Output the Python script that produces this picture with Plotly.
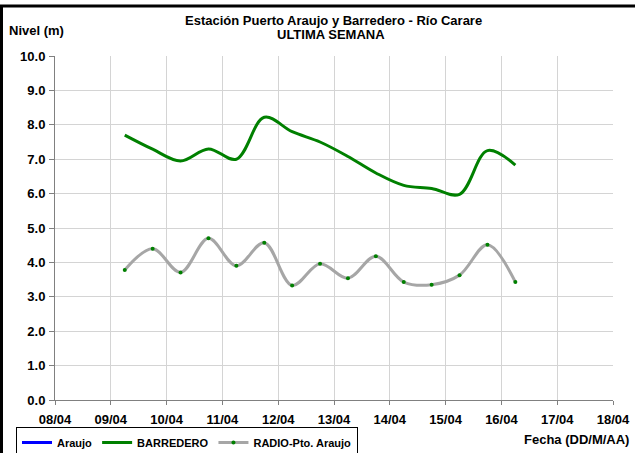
import plotly.graph_objects as go

# ---- data ----
fechas = [
    "2024-04-09 06:00", "2024-04-09 18:00", "2024-04-10 06:00", "2024-04-10 18:00",
    "2024-04-11 06:00", "2024-04-11 18:00", "2024-04-12 06:00", "2024-04-12 18:00",
    "2024-04-13 06:00", "2024-04-13 18:00", "2024-04-14 06:00", "2024-04-14 18:00",
    "2024-04-15 06:00", "2024-04-15 18:00", "2024-04-16 06:00",
]
araujo_fechas = ["2024-04-09 06:00"]
araujo = [None]  # no data for this station
barredero = [7.70, 7.29, 6.95, 7.30, 7.00, 8.22, 7.80, 7.50, 7.08, 6.60,
             6.24, 6.15, 5.98, 7.25, 6.83]
radio_pto_araujo = [3.78, 4.40, 3.71, 4.70, 3.90, 4.57, 3.33, 3.96, 3.54, 4.18,
                    3.43, 3.35, 3.63, 4.51, 3.43]
x_range = ["2024-04-08", "2024-04-18"]
y_ticks = [0, 1, 2, 3, 4, 5, 6, 7, 8, 9, 10]
titulo_1 = "Estación Puerto Araujo y Barredero - Río Carare"
titulo_2 = "ULTIMA SEMANA"

FONT = "Arial, Liberation Sans, sans-serif"

fig = go.Figure()
fig.add_trace(go.Scatter(
    x=araujo_fechas, y=araujo, name="Araujo", mode="lines",
    line=dict(color="#0000ff", width=3), showlegend=True))
fig.add_trace(go.Scatter(
    x=fechas, y=barredero, name="BARREDERO", mode="lines",
    line=dict(color="#008000", width=3, shape="spline", smoothing=1.0)))
fig.add_trace(go.Scatter(
    x=fechas, y=radio_pto_araujo, name="RADIO-Pto. Araujo", mode="lines+markers",
    line=dict(color="#a6a6a6", width=3, shape="spline", smoothing=1.0),
    marker=dict(color="#008000", size=4, symbol="circle")))

L, R, T, B = 55, 22, 56, 53
W, H = 635, 453
pw, ph = W - L - R, H - T - B

def px2x(px):
    return (px - L) / pw

def py2y(py):
    return (H - B - py) / ph

def txt(text, px, py, xanchor="center", size=13):
    return dict(text=text, xref="paper", yref="paper", x=px2x(px), y=py2y(py),
                xanchor=xanchor, yanchor="middle", showarrow=False,
                font=dict(family=FONT, size=size, color="black", weight="bold"))

def seg(x0, y0, x1, y1, width=1):
    return dict(type="line", xref="paper", yref="paper", layer="above",
                x0=px2x(x0), x1=px2x(x1), y0=py2y(y0), y1=py2y(y1),
                line=dict(color="black", width=width))

fig.update_layout(
    width=W, height=H,
    margin=dict(l=L, r=R, t=T, b=B, pad=0, autoexpand=False),
    paper_bgcolor="white", plot_bgcolor="white",
    font=dict(family=FONT, size=11, color="black", weight="bold"),
    xaxis=dict(
        type="date", range=x_range, dtick=86400000, tickformat="%d/%m",
        showgrid=True, gridcolor="#d4d4d4", gridwidth=1,
        showline=True, linecolor="#808080", linewidth=1,
        ticks="outside", ticklen=4, tickcolor="#808080",
        ticklabelstandoff=3,
        tickfont=dict(family=FONT, size=13, color="black", weight="bold"),
        zeroline=False, fixedrange=True, automargin=False),
    yaxis=dict(
        range=[0, 10], tickvals=y_ticks, tickformat=".1f",
        showgrid=True, gridcolor="#d4d4d4", gridwidth=1,
        showline=True, linecolor="#808080", linewidth=1,
        ticks="outside", ticklen=5, tickcolor="#808080",
        ticklabelstandoff=1,
        tickfont=dict(family=FONT, size=13, color="black", weight="bold"),
        zeroline=False, fixedrange=True, automargin=False),
    legend=dict(
        orientation="h", x=px2x(16), xanchor="left", y=py2y(427), yanchor="top",
        bordercolor="black", borderwidth=1, bgcolor="white",
        font=dict(family=FONT, size=11, color="black", weight="bold"),
        itemwidth=30, tracegroupgap=0),
    annotations=[
        txt(titulo_1, 333, 20),
        txt(titulo_2, 331, 34),
        txt("Nivel (m)", 7, 30, xanchor="left"),
        txt("Fecha (DD/M/AA)", 631, 439, xanchor="right"),
    ],
    shapes=[
        # outer frame (top and left)
        seg(0, 6, W, 6, width=3),
        seg(1.5, 5, 1.5, H, width=3),
    ],
)

fig.write_html("out.html", config={"displayModeBar": False},
               post_script="document.body.style.margin='0';")
